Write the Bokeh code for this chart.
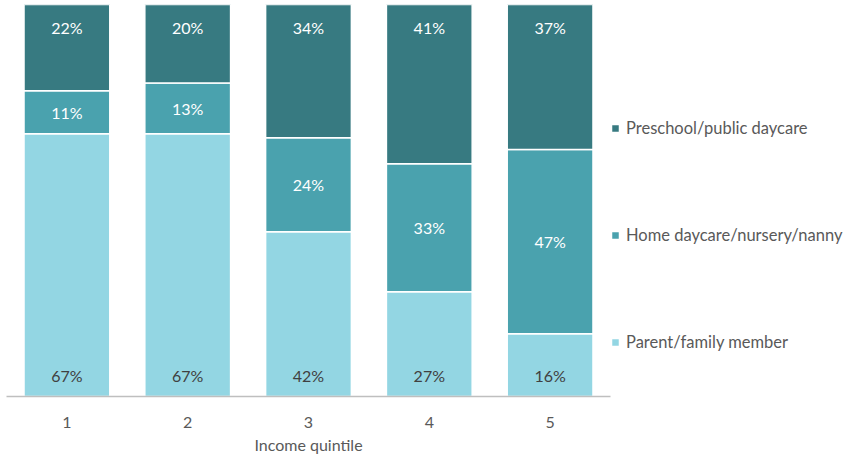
from bokeh.plotting import figure
from bokeh.models import ColumnDataSource, Legend, LegendItem, FactorRange
from bokeh.core.properties import value
from bokeh.embed import file_html
from bokeh.resources import INLINE

quintiles = ["1", "2", "3", "4", "5"]
parent = [67, 67, 42, 27, 16]
home = [11, 13, 24, 33, 47]
preschool = [22, 20, 34, 41, 37]
series_names = ["Parent/family member", "Home daycare/nursery/nanny", "Preschool/public daycare"]
colors = ["#93D6E3", "#4AA2AE", "#377A81"]
label_colors = ["#404040", "#FFFFFF", "#FFFFFF"]

FONT = "Lato"
FS = "16px"

totals = [a + b + c for a, b, c in zip(parent, home, preschool)]
fp = [v / t for v, t in zip(parent, totals)]
fh = [v / t for v, t in zip(home, totals)]
fs = [v / t for v, t in zip(preschool, totals)]

p = figure(frame_width=604, frame_height=392, x_range=FactorRange(*quintiles, range_padding=0),
           y_range=(0, 1), output_backend="svg", toolbar_location=None,
           min_border_left=6, min_border_top=4, min_border_bottom=62, min_border_right=0)

src = ColumnDataSource(dict(
    q=quintiles, parent=fp, home=fh, preschool=fs,
    lp=[f"{v}%" for v in parent], lh=[f"{v}%" for v in home], ls=[f"{v}%" for v in preschool],
    b0=[0] * 5,
    top=[a + b + c for a, b, c in zip(fp, fh, fs)],
    mid=[a + b / 2 for a, b in zip(fp, fh)],
))

renderers = p.vbar_stack(["parent", "home", "preschool"], x="q", width=0.71, source=src,
                         color=colors, line_color="white", line_width=1.5)

p.text(x="q", y="b0", text="lp", source=src, text_align="center", text_baseline="middle",
       y_offset=-21, text_color=label_colors[0], text_font=value(FONT), text_font_size=FS)
p.text(x="q", y="mid", text="lh", source=src, text_align="center", text_baseline="middle",
       text_color=label_colors[1], text_font=value(FONT), text_font_size=FS)
p.text(x="q", y="top", text="ls", source=src, text_align="center", text_baseline="middle",
       y_offset=23, text_color=label_colors[2], text_font=value(FONT), text_font_size=FS)

items = [LegendItem(label=series_names[i], renderers=[renderers[i]]) for i in [2, 1, 0]]
legend = Legend(items=items, location=(0, 44), margin=0, padding=0, spacing=87,
                glyph_width=10, glyph_height=10, label_standoff=6, label_height=20,
                label_text_font=FONT, label_text_font_size="16.5px", label_text_color="#595959",
                border_line_color=None, background_fill_alpha=0)
p.add_layout(legend, "right")

p.grid.visible = False
p.yaxis.visible = False
p.outline_line_color = None
p.xaxis.axis_line_color = "#BFBFBF"
p.xaxis.axis_line_width = 1.5
p.xaxis.major_tick_line_color = None
p.xaxis.minor_tick_line_color = None
p.xaxis.major_label_standoff = 14
p.xaxis.major_label_text_font = FONT
p.xaxis.major_label_text_font_size = FS
p.xaxis.major_label_text_color = "#595959"
p.xaxis.axis_label = "Income quintile"
p.xaxis.axis_label_text_font = FONT
p.xaxis.axis_label_text_font_size = FS
p.xaxis.axis_label_text_font_style = "normal"
p.xaxis.axis_label_text_color = "#595959"
p.xaxis.axis_label_standoff = 4

open("out.html", "w").write(file_html(p, INLINE))
